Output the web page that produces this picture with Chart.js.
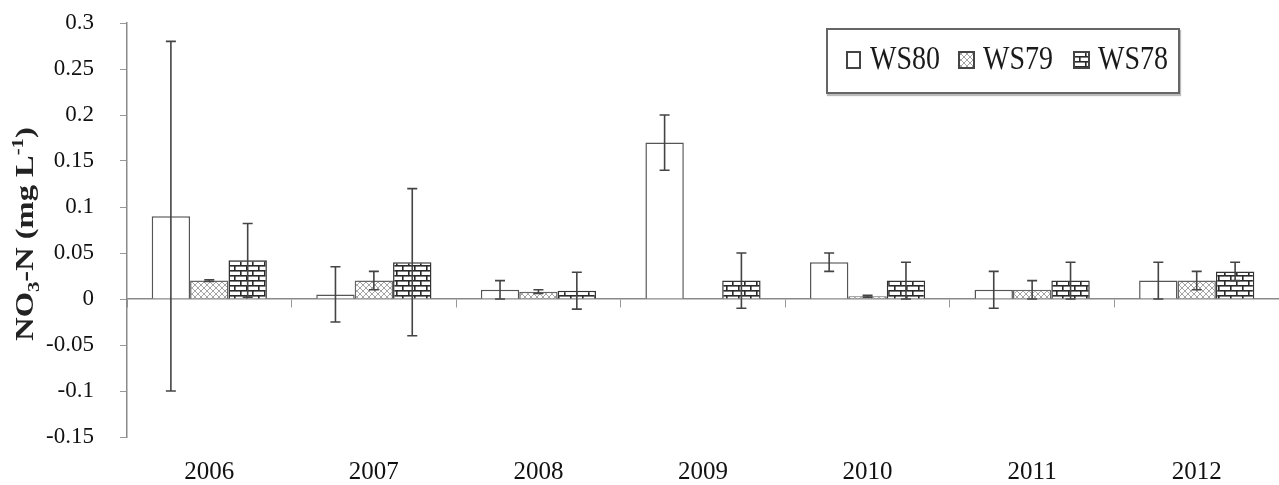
<!DOCTYPE html>
<html><head><meta charset="utf-8">
<script src="https://cdn.jsdelivr.net/npm/chart.js@4"></script>
<style>
html,body{margin:0;padding:0;background:#fff;}
#wrap{position:relative;width:1279px;height:485px;overflow:hidden;}
#c{position:absolute;left:0;top:0;}
#legend{position:absolute;left:826px;top:28px;width:350px;height:62px;border:2px solid #666;box-shadow:1px 2px 1px #bbb;background:#fff;font-family:"Liberation Serif","Times New Roman",serif;color:#1a1a1a;}
.sw{position:absolute;top:21px;}
.lt{position:absolute;top:16px;font-size:28px;line-height:28px;transform:scaleY(1.22);transform-origin:0 23px;white-space:nowrap;}
</style>
</head><body>
<div id="wrap">
<canvas id="c" width="1279" height="485"></canvas>
<div id="legend">
  <canvas class="sw" id="sw0" width="15" height="18" style="left:18px"></canvas><span class="lt" style="left:42px">WS80</span>
  <canvas class="sw" id="sw1" width="17" height="18" style="left:130px"></canvas><span class="lt" style="left:155px">WS79</span>
  <canvas class="sw" id="sw2" width="17" height="18" style="left:245px"></canvas><span class="lt" style="left:270px">WS78</span>
</div>
</div>
<script>
const categories = ['2006','2007','2008','2009','2010','2011','2012'];
const seriesNames = ['WS80','WS79','WS78'];
const ws80 = [0.09, 0.005, 0.01, 0.17, 0.04, 0.01, 0.02];
const ws80Err = [0.19, 0.03, 0.01, 0.03, 0.01, 0.02, 0.02];
const ws79 = [0.02, 0.02, 0.008, 0, 0.003, 0.01, 0.02];
const ws79Err = [0.001, 0.01, 0.002, 0, 0.001, 0.01, 0.01];
const ws78 = [0.042, 0.04, 0.009, 0.02, 0.02, 0.02, 0.03];
const ws78Err = [0.04, 0.08, 0.02, 0.03, 0.02, 0.02, 0.01];
const yMin = -0.15, yMax = 0.3, yStep = 0.05;

function makeDotPattern(){
  const t = document.createElement('canvas'); t.width = 6; t.height = 6;
  const g = t.getContext('2d');
  g.fillStyle = '#fff'; g.fillRect(0,0,6,6);
  g.strokeStyle = '#9a9a9a'; g.lineWidth = 0.9;
  g.beginPath(); g.moveTo(0,0); g.lineTo(6,6); g.moveTo(6,0); g.lineTo(0,6); g.stroke();
  return g.createPattern(t,'repeat');
}
function makeBrickPattern(){
  const t = document.createElement('canvas'); t.width = 12; t.height = 10;
  const g = t.getContext('2d');
  g.fillStyle = '#fff'; g.fillRect(0,0,12,10);
  g.fillStyle = '#2a2a2a';
  g.fillRect(0,0,12,1.6); g.fillRect(0,5,12,1.6);
  g.fillRect(0,0,1.6,5); g.fillRect(6,5,1.6,5);
  return g.createPattern(t,'repeat');
}
const dotPat = makeDotPattern();
const brickPat = makeBrickPattern();
const fills = ['#ffffff', dotPat, brickPat];
const borders = ['#555', '#666', '#333'];

['sw0','sw1','sw2'].forEach((id,i)=>{
  const cv = document.getElementById(id), g = cv.getContext('2d');
  g.fillStyle = fills[i]; g.fillRect(0,0,cv.width,cv.height);
  g.strokeStyle = '#444'; g.lineWidth = 2; g.strokeRect(1,1,cv.width-2,cv.height-2);
});

const errors = [ws80Err, ws79Err, ws78Err];

const errorBarPlugin = {
  id: 'errorBars',
  afterDatasetsDraw(chart){
    const ctx = chart.ctx, y = chart.scales.y;
    ctx.save();
    ctx.strokeStyle = '#444'; ctx.lineWidth = 1.6;
    chart.data.datasets.forEach((ds, di)=>{
      const meta = chart.getDatasetMeta(di);
      meta.data.forEach((bar, i)=>{
        const e = errors[di][i];
        if (!e) return;
        const v = ds.data[i];
        const top = y.getPixelForValue(v + e), bot = y.getPixelForValue(v - e);
        const x = bar.x;
        ctx.beginPath();
        ctx.moveTo(x, top); ctx.lineTo(x, bot);
        ctx.moveTo(x-5, top); ctx.lineTo(x+5, top);
        ctx.moveTo(x-5, bot); ctx.lineTo(x+5, bot);
        ctx.stroke();
      });
    });
    ctx.restore();
  }
};

const yTitlePlugin = {
  id: 'yTitle',
  afterDraw(chart){
    const ctx = chart.ctx;
    const big = 'bold 25px "Liberation Serif", "Times New Roman", serif';
    const small = 'bold 16px "Liberation Serif", "Times New Roman", serif';
    const parts = [['NO',big,0],['3',small,6],['-N (mg L',big,0],['-1',small,-10],[')',big,0]];
    ctx.save();
    ctx.translate(33, 234);
    ctx.rotate(-Math.PI/2);
    ctx.scale(1.3, 1);
    ctx.fillStyle = '#222';
    ctx.textBaseline = 'alphabetic';
    let total = 0;
    parts.forEach(p=>{ ctx.font = p[1]; total += ctx.measureText(p[0]).width; });
    let x = -total/2;
    parts.forEach(p=>{ ctx.font = p[1]; ctx.fillText(p[0], x, p[2]); x += ctx.measureText(p[0]).width; });
    ctx.restore();
  }
};

const fontFam = '"Liberation Serif", "Times New Roman", serif';

new Chart(document.getElementById('c'), {
  type: 'bar',
  data: {
    labels: categories,
    datasets: [ws80, ws79, ws78].map((d,i)=>({
      label: seriesNames[i],
      data: d,
      backgroundColor: fills[i],
      borderColor: borders[i],
      borderWidth: 1.5,
      categoryPercentage: 0.7,
      barPercentage: 1.0
    }))
  },
  options: {
    responsive: false,
    animation: false,
    layout: { padding: { top: 23, right: 0, bottom: 0, left: 0 } },
    plugins: { legend: { display: false }, tooltip: { enabled: false } },
    scales: {
      x: {
        type: 'category',
        afterFit(scale){ scale.height = 48; },
        grid: { display: false },
        border: { display: false },
        ticks: { font: { family: fontFam, size: 25 }, color: '#111', padding: 12, maxRotation: 0 }
      },
      x2: {
        type: 'category',
        position: { y: 0 },
        offset: true,
        afterFit(scale){ scale.height = 0; },
        grid: { display: true, offset: true, drawOnChartArea: false, drawTicks: true, tickLength: 8, color: '#999', lineWidth: 1 },
        border: { display: true, color: '#8a8a8a', width: 1.5 },
        ticks: { display: false }
      },
      y: {
        min: yMin, max: yMax,
        afterFit(scale){ scale.width = 127; scale.paddingTop = 0; scale.paddingBottom = 0; },
        grid: { drawOnChartArea: false, drawTicks: true, tickLength: 7, color: '#999' },
        border: { display: true, color: '#8a8a8a', width: 1.5 },
        ticks: {
          stepSize: yStep,
          padding: 26,
          font: { family: fontFam, size: 23 },
          color: '#111',
          callback: v => String(Number(v.toFixed(2)))
        }
      }
    }
  },
  plugins: [errorBarPlugin, yTitlePlugin]
});
</script>
</body></html>
